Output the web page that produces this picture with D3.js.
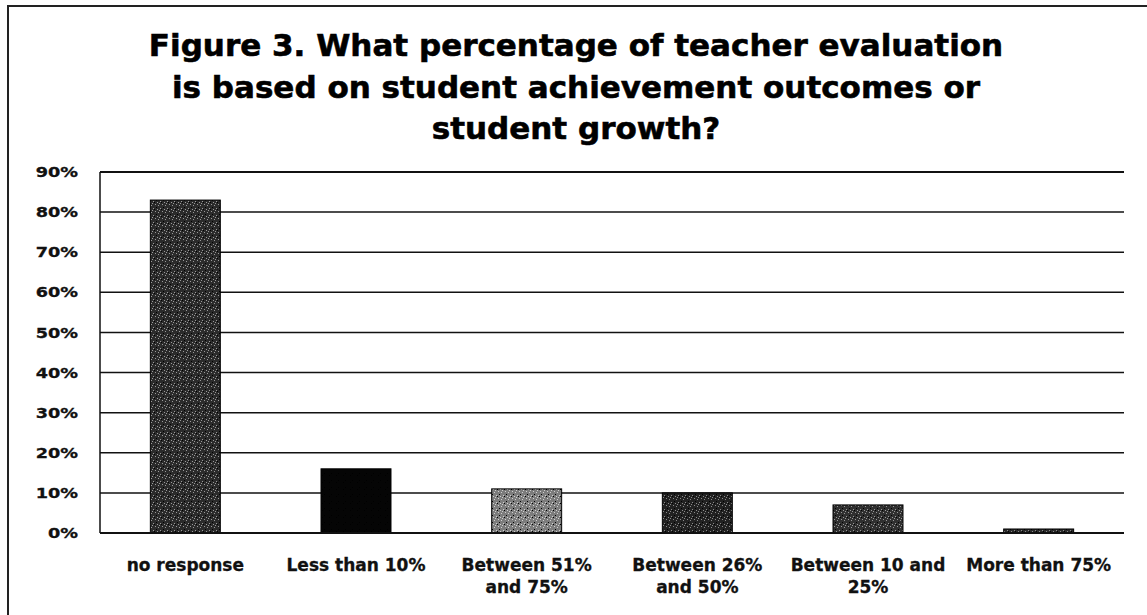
<!DOCTYPE html>
<html>
<head>
<meta charset="utf-8">
<script src="https://cdn.jsdelivr.net/npm/d3@7"></script>
<style>
  html, body { margin: 0; padding: 0; background: #fff; }
  svg { display: block; }
</style>
</head>
<body>
<svg id="chart" width="1147" height="615"></svg>
<script>
// Survey responses: share of respondents per answer
const categories = [
  ["no response"],
  ["Less than 10%"],
  ["Between 51%", "and 75%"],
  ["Between 26%", "and 50%"],
  ["Between 10 and", "25%"],
  ["More than 75%"]
];
const values = [83, 16, 11, 10, 7, 1];
const yTicks = [0, 10, 20, 30, 40, 50, 60, 70, 80, 90];
const titleLines = [
  "Figure 3. What percentage of teacher evaluation",
  "is based on student achievement outcomes or",
  "student growth?"
];
// fill style for each bar (base tone, speckle tone)
const barStyles = [
  { base: "#2b2b2b", dot: "#9a9a9a" },
  { base: "#050505", dot: "#050505" },
  { base: "#7c7c7c", dot: "#d0d0d0" },
  { base: "#222222", dot: "#8a8a8a" },
  { base: "#303030", dot: "#999999" },
  { base: "#2a2a2a", dot: "#888888" }
];

const svg = d3.select("#chart");
const W = 1147, H = 615;
const plot = { left: 100, right: 1124, top: 172, bottom: 533 };

// speckled fills
const defs = svg.append("defs");
barStyles.forEach((s, i) => {
  const p = defs.append("pattern")
    .attr("id", "fill" + i)
    .attr("patternUnits", "userSpaceOnUse")
    .attr("width", 7).attr("height", 7);
  p.append("rect").attr("width", 7).attr("height", 7).attr("fill", s.base);
  [[1,1],[4,2],[2,4],[6,5],[5,0],[0,6],[3,6]].forEach(([x, y], k) => {
    p.append("rect").attr("x", x).attr("y", y).attr("width", 1).attr("height", 1)
      .attr("fill", k % 3 === 2 ? "#000" : s.dot);
  });
});

// outer frame
svg.append("path")
  .attr("d", `M8,${H + 5} L8,6 L${W + 5},6`)
  .attr("fill", "none").attr("stroke", "#222").attr("stroke-width", 2);

// title
svg.append("g").selectAll("text")
  .data(titleLines)
  .join("text")
  .attr("x", 576)
  .attr("y", (d, i) => 56 + i * 41.5)
  .attr("text-anchor", "middle")
  .attr("font-family", "DejaVu Sans")
  .attr("font-weight", "bold")
  .attr("font-size", 31)
  .attr("fill", "#000")
  .attr("stroke", "#000")
  .attr("stroke-width", 0.6)
  .text(d => d);

const x = d3.scaleBand()
  .domain(d3.range(categories.length))
  .range([plot.left, plot.right])
  .paddingInner(0.59)
  .paddingOuter(0.295);

const y = d3.scaleLinear()
  .domain([0, 90])
  .range([plot.bottom, plot.top]);

// horizontal gridlines
svg.append("g").selectAll("line")
  .data(yTicks.filter(t => t > 0))
  .join("line")
  .attr("x1", plot.left).attr("x2", plot.right)
  .attr("y1", d => y(d)).attr("y2", d => y(d))
  .attr("stroke", "#111")
  .attr("stroke-width", d => d === 90 ? 2.2 : 1.5);

// y axis labels
const yAxis = d3.axisLeft(y)
  .tickValues(yTicks)
  .tickFormat(d => d + "%")
  .tickSize(0)
  .tickPadding(0);
const yg = svg.append("g")
  .attr("transform", `translate(${plot.left},0)`)
  .call(yAxis);
yg.select(".domain").remove();
yg.selectAll("text")
  .attr("font-family", "DejaVu Sans")
  .attr("font-weight", "bold")
  .attr("font-size", 14.5)
  .attr("fill", "#111")
  .attr("stroke", "#111")
  .attr("stroke-width", 0.3)
  .attr("x", 0)
  .attr("transform", "translate(-22,0) scale(1.22,1)");

// left axis line
svg.append("line")
  .attr("x1", plot.left).attr("x2", plot.left)
  .attr("y1", plot.top).attr("y2", plot.bottom)
  .attr("stroke", "#111").attr("stroke-width", 1.5);

// bars
svg.append("g").selectAll("rect")
  .data(values)
  .join("rect")
  .attr("x", (d, i) => x(i))
  .attr("width", x.bandwidth())
  .attr("y", d => y(d))
  .attr("height", d => y(0) - y(d))
  .attr("fill", (d, i) => `url(#fill${i})`)
  .attr("stroke", "#000")
  .attr("stroke-width", 1);

// bottom axis line
svg.append("line")
  .attr("x1", plot.left).attr("x2", plot.right)
  .attr("y1", y(0)).attr("y2", y(0))
  .attr("stroke", "#111").attr("stroke-width", 2);

// category labels
const xl = svg.append("g").selectAll("text")
  .data(categories)
  .join("text")
  .attr("x", (d, i) => x(i) + x.bandwidth() / 2)
  .attr("y", 571)
  .attr("text-anchor", "middle")
  .attr("font-family", "DejaVu Sans")
  .attr("font-weight", "bold")
  .attr("font-size", 17)
  .attr("fill", "#111")
  .attr("stroke", "#111")
  .attr("stroke-width", 0.3);
xl.selectAll("tspan")
  .data(d => d)
  .join("tspan")
  .attr("x", function () { return d3.select(this.parentNode).attr("x"); })
  .attr("dy", (d, i) => i === 0 ? 0 : 22)
  .text(d => d);
</script>
</body>
</html>
